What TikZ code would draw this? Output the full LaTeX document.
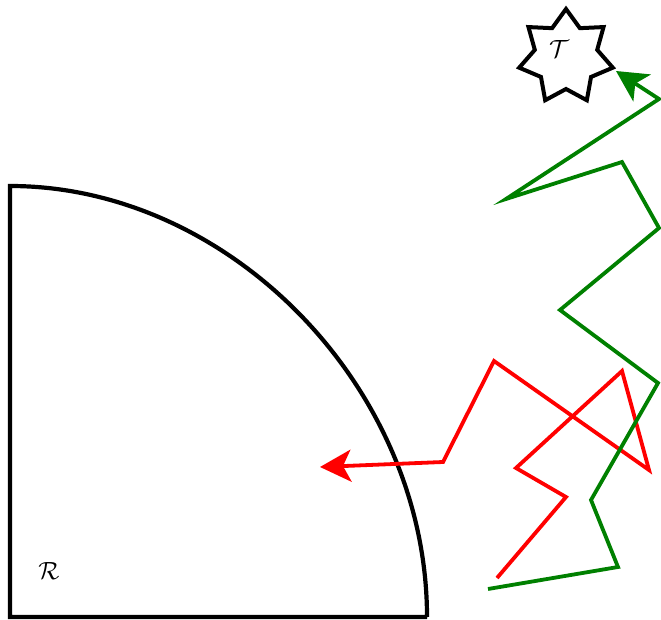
\documentclass[tikz,border=0pt]{standalone}
\usetikzlibrary{shapes.geometric,arrows.meta}
\definecolor{pathgreen}{rgb}{0,0.5,0}
\definecolor{pathred}{rgb}{1,0,0}
\tikzset{
  region/.style={draw=black,line width=4.2pt,line join=miter},
  target/.style={star,star points=7,star point ratio=1.5,minimum size=96pt,inner sep=0pt,draw=black,line width=4pt},
  lbl/.style={inner sep=0pt,font=\fontsize{25}{29}\selectfont},
  walk/.style={line width=3.8pt,line join=miter,-{Stealth[length=31pt,width=32pt,inset=8pt]}},
}
\begin{document}
\begin{tikzpicture}[x=1pt,y=-1pt]
\useasboundingbox (0,0) rectangle (661,620);
% region R
\coordinate (c0) at (10,617);
\coordinate (c1) at (10,186);
\coordinate (c2) at (427,617);
\draw[region] (c2) -- (c0) -- (c1) .. controls (231,186) and (427,389) .. (c2);
\node[lbl] (R) at (49,571) {$\mathcal{R}$};
% target T
\node[target] (T) at (566,57) {};
\node[lbl] (Tl) at (559,49) {$\mathcal{T}$};
% red walk
\coordinate (r1) at (497,578);
\coordinate (r2) at (566,497);
\coordinate (r3) at (516,468);
\coordinate (r4) at (622,371);
\coordinate (r5) at (649,470);
\coordinate (r6) at (494,361);
\coordinate (r7) at (443,462);
\coordinate (r8) at (320,467);
\draw[walk,pathred] (r1) -- (r2) -- (r3) -- (r4) -- (r5) -- (r6) -- (r7) -- (r8);
% green walk
\coordinate (g1) at (488,589);
\coordinate (g2) at (618,567);
\coordinate (g3) at (591,500);
\coordinate (g4) at (658,383);
\coordinate (g5) at (560,310);
\coordinate (g6) at (659,228);
\coordinate (g7) at (622,162);
\coordinate (g8) at (506,199);
\coordinate (g9) at (659,99);
\coordinate (g10) at (616,71);
\draw[walk,pathgreen] (g1) -- (g2) -- (g3) -- (g4) -- (g5) -- (g6) -- (g7) -- (g8) -- (g9) -- (g10);
\end{tikzpicture}
\end{document}
